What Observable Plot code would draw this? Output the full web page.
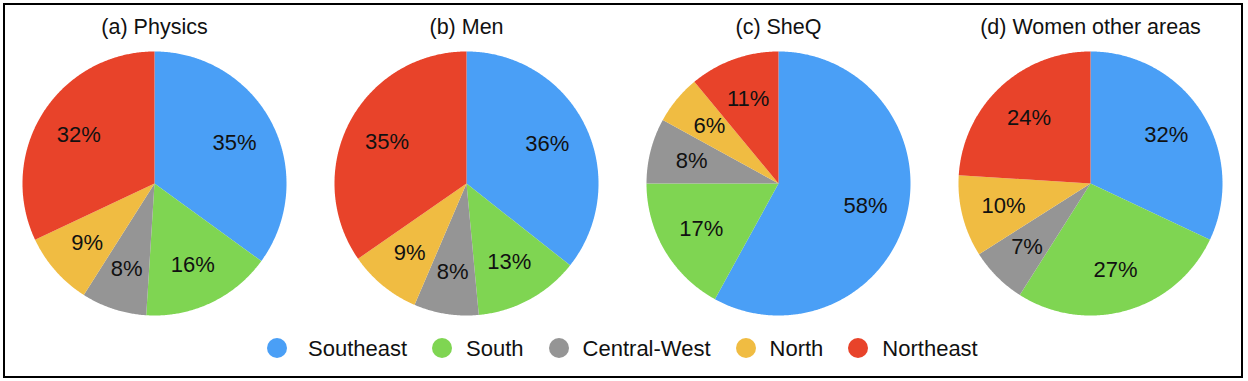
<!DOCTYPE html>
<html>
<head>
<meta charset="utf-8">
<script src="https://cdn.jsdelivr.net/npm/d3@7"></script>
<script src="https://cdn.jsdelivr.net/npm/@observablehq/plot@0.6"></script>
<style>
  body { margin: 0; background: #fff; font-family: "Liberation Sans", Arial, Helvetica, sans-serif; }
  #wrap { position: relative; width: 1248px; height: 381px; overflow: hidden; background: #fff; }
  #frame { position: absolute; left: 3px; top: 3px; width: 1240px; height: 375px; box-sizing: border-box; border: 2.5px solid #000; pointer-events: none; }
  #chart { position: absolute; left: -2px; top: 0; }
  #legend { position: absolute; left: 267px; top: 337px; height: 22px; display: flex; justify-content: flex-start; align-items: center; font-size: 22px; line-height: 22px; color: #111; white-space: nowrap; }
  .item { display: flex; align-items: center; margin-right: 25px; }
  .dot { width: 20px; height: 20px; border-radius: 50%; margin-right: 14px; flex: none; }
  .item:first-child .dot { margin-right: 21px; }
  .item span { position: relative; top: 1px; }
</style>
</head>
<body>
<div id="wrap">
  <div id="chart"></div>
  <div id="legend"></div>
  <div id="frame"></div>
</div>
<script>
const regions = ["Southeast", "South", "Central-West", "North", "Northeast"];
const colors = ["#4a9ff6", "#7fd552", "#959595", "#f0bc42", "#e8432a"];
const charts = ["(a) Physics", "(b) Men", "(c) SheQ", "(d) Women other areas"];
const physics = [35, 16, 8, 9, 32];
const men = [36, 13, 8, 9, 35];
const sheq = [58, 17, 8, 6, 11];
const women = [32, 27, 7, 10, 24];
const series = [physics, men, sheq, women];

const pie = d3.pie().sort(null).value(d => d);
const slices = [];
const labels = [];
charts.forEach((c, i) => {
  const arcs = pie(series[i]);
  arcs.forEach((a, j) => {
    const key = c + "|" + regions[j];
    slices.push({chart: c, region: regions[j], key, x: 0, y: 0});
    const n = Math.max(2, Math.ceil((a.endAngle - a.startAngle) / (Math.PI / 360)));
    for (let k = 0; k <= n; k++) {
      const t = a.startAngle + (a.endAngle - a.startAngle) * k / n;
      slices.push({chart: c, region: regions[j], key, x: Math.sin(t), y: Math.cos(t)});
    }
    const m = (a.startAngle + a.endAngle) / 2;
    labels.push({chart: c, text: series[i][j] + "%", x: 0.68 * Math.sin(m), y: 0.68 * Math.cos(m)});
  });
});

const plot = Plot.plot({
  width: 1248,
  height: 330,
  marginTop: 40,
  marginBottom: 0,
  marginLeft: 0,
  marginRight: 0,
  fx: {domain: charts, padding: 0, axis: null},
  x: {domain: [-1.1818, 1.1818], axis: null},
  y: {domain: [-1.1136, 1.0833], axis: null},
  color: {domain: regions, range: colors},
  style: {fontFamily: "'Liberation Sans', Arial, Helvetica, sans-serif", fontSize: "22px", color: "#111", background: "transparent"},
  marks: [
    Plot.line(slices, {x: "x", y: "y", z: "key", fx: "chart", fill: "region", stroke: "none", curve: "linear"}),
    Plot.text(labels, {x: "x", y: "y", fx: "chart", text: "text", fontSize: 22, fill: "#111"}),
    Plot.text(charts, {fx: d => d, text: d => d, frameAnchor: "top", lineAnchor: "middle", dy: -13, fontSize: 21.5, fill: "#111"})
  ]
});
document.getElementById("chart").appendChild(plot);

const legend = d3.select("#legend");
regions.forEach((r, i) => {
  const item = legend.append("div").attr("class", "item");
  item.append("div").attr("class", "dot").style("background", colors[i]);
  item.append("span").text(r);
});
</script>
</body>
</html>
